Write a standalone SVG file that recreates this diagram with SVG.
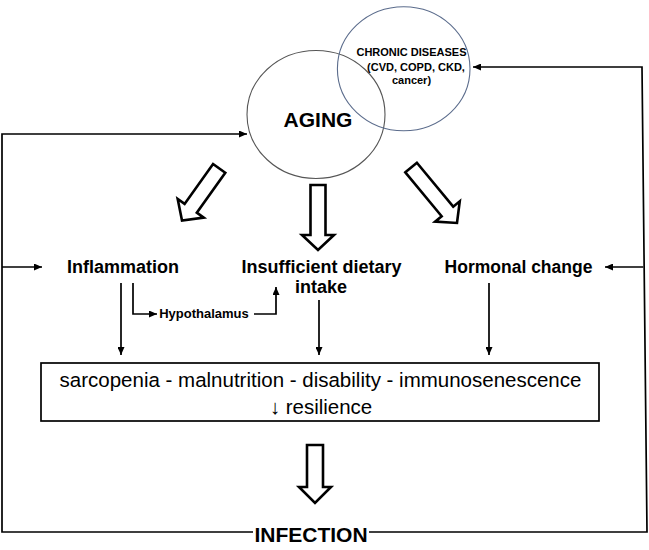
<svg xmlns="http://www.w3.org/2000/svg" width="649" height="550" viewBox="0 0 649 550">
<style>
  .lbl { font-family: "Liberation Sans", Arial, sans-serif; font-weight: bold; fill: #000; text-anchor: middle; }
  .reg { font-family: "Liberation Sans", Arial, sans-serif; fill: #000; text-anchor: middle; }
  .conn { fill: none; stroke: #000; stroke-width: 1.7; }
  .blk { fill: #fff; stroke: #000; stroke-width: 2.6; stroke-linejoin: miter; }
</style>
<defs>
  <marker id="ah" markerUnits="userSpaceOnUse" markerWidth="8" markerHeight="7" refX="8" refY="3.5" orient="auto">
    <path d="M0,0 L8,3.5 L0,7 z" fill="#000"/>
  </marker>
</defs>
<rect width="649" height="550" fill="#fff"/>

<g id="aging">
  <ellipse cx="316" cy="114.5" rx="69" ry="64" fill="none" stroke="#555" stroke-width="1.1"/>
  <text class="lbl" x="318" y="127" font-size="21">AGING</text>
</g>
<g id="chronic-diseases">
  <ellipse cx="403.7" cy="68.7" rx="66.3" ry="62" fill="none" stroke="#5b6c8c" stroke-width="1.1"/>
  <text class="lbl" x="411.5" y="56" font-size="11">CHRONIC DISEASES</text>
  <text class="lbl" x="416" y="70.5" font-size="11">(CVD, COPD, CKD,</text>
  <text class="lbl" x="411.5" y="84" font-size="11">cancer)</text>
</g>
<g id="inflammation">
  <text class="lbl" x="123" y="273" font-size="18">Inflammation</text>
</g>
<g id="insufficient-intake">
  <text class="lbl" x="321.5" y="273" font-size="18">Insufficient dietary</text>
  <text class="lbl" x="321" y="293" font-size="18">intake</text>
</g>
<g id="hormonal-change">
  <text class="lbl" x="518.5" y="273" font-size="17.5">Hormonal change</text>
</g>
<g id="hypothalamus">
  <text class="lbl" x="204" y="318" font-size="13">Hypothalamus</text>
</g>
<g id="outcomes">
  <rect x="41" y="363" width="558" height="58" fill="#fff" stroke="#000" stroke-width="1.7"/>
  <text class="reg" x="320.5" y="387" font-size="20.5">sarcopenia - malnutrition - disability - immunosenescence</text>
  <text class="reg" x="321" y="414" font-size="20.5">↓ resilience</text>
</g>
<g id="infection">
  <text class="lbl" x="311" y="542" font-size="21">INFECTION</text>
</g>

<g id="block-arrows">
  <polygon class="blk" transform="translate(182,220.5) rotate(35.5)" points="-7.5,-64 7.5,-64 7.5,-15 16,-15 0,0 -16,-15 -7.5,-15"/>
  <polygon class="blk" transform="translate(318,250)" points="-7.5,-65 7.5,-65 7.5,-15 16,-15 0,0 -16,-15 -7.5,-15"/>
  <polygon class="blk" transform="translate(457,223) rotate(-39.6)" points="-7.5,-72 7.5,-72 7.5,-15 16,-15 0,0 -16,-15 -7.5,-15"/>
  <polygon class="blk" transform="translate(315,503)" points="-8,-58 8,-58 8,-16 16,-16 0,0 -16,-16 -8,-16"/>
</g>

<g id="connectors">
  <polyline class="conn" points="253,532 2,532 2,134 247,134" marker-end="url(#ah)"/>
  <polyline class="conn" points="369,532 647,532 642,67 473,67" marker-end="url(#ah)"/>
  <line class="conn" x1="2" y1="267" x2="42" y2="267" marker-end="url(#ah)"/>
  <line class="conn" x1="643.3" y1="267" x2="605" y2="267" marker-end="url(#ah)"/>
  <line class="conn" x1="121" y1="283" x2="121" y2="355" marker-end="url(#ah)"/>
  <polyline class="conn" points="133,283 133,314 157,314" marker-end="url(#ah)"/>
  <polyline class="conn" points="254,314 276,314 276,287" marker-end="url(#ah)"/>
  <line class="conn" x1="319" y1="300" x2="319" y2="355" marker-end="url(#ah)"/>
  <line class="conn" x1="489" y1="283" x2="489" y2="355" marker-end="url(#ah)"/>
</g>
</svg>
